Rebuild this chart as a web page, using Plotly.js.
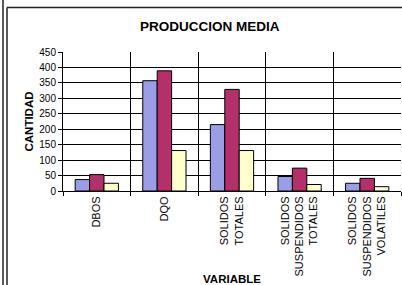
<!DOCTYPE html>
<html>
<head>
<meta charset="utf-8">
<script src="https://cdn.plot.ly/plotly-3.0.1.min.js"></script>
<style>html,body{margin:0;padding:0;background:#fff;}#chart{width:402px;height:285px;}</style>
</head>
<body>
<div id="chart"></div>
<script>
var categories = ["DBOS", "DQO", "SOLIDOS<br>TOTALES", "SOLIDOS<br>SUSPENDIDOS<br>TOTALES", "SOLIDOS<br>SUSPENDIDOS<br>VOLATILES"];
var serie1 = [37, 357, 215, 47, 25];
var serie2 = [53, 389, 329, 74, 41];
var serie3 = [25, 131, 131, 21, 14];
var yTicks = [0, 50, 100, 150, 200, 250, 300, 350, 400, 450];

var font = "Liberation Sans, Arial, sans-serif";
function bar(vals, color, name) {
  return {type: "bar", x: categories, y: vals, name: name,
    marker: {color: color, line: {color: "#000", width: 1}}, hoverinfo: "y"};
}
var data = [
  bar(serie1, "#9A9EE6", "Serie 1"),
  bar(serie2, "#B3306B", "Serie 2"),
  bar(serie3, "#FFFFCC", "Serie 3")
];
var fl = {color: "#222", width: 1.5};
var layout = {
  width: 402, height: 285,
  margin: {l: 63, r: 1, t: 52, b: 94},
  paper_bgcolor: "#fff", plot_bgcolor: "#fff",
  showlegend: false,
  barmode: "group", bargap: 0.36, bargroupgap: 0,
  font: {family: font, size: 10, color: "#000"},
  title: {text: "<b>PRODUCCION MEDIA</b>", font: {family: font, size: 13.5, color: "#000"},
    x: 0.522, xref: "container", xanchor: "center", y: 0.909, yref: "container", yanchor: "middle"},
  xaxis: {type: "category", tickson: "boundaries", showgrid: true, gridcolor: "#000", gridwidth: 1,
    ticks: "outside", ticklen: 4, tickcolor: "#000", tickangle: -90,
    showline: true, linecolor: "#000", linewidth: 1,
    tickfont: {family: font, size: 11, color: "#000"},
    title: {text: "<b>VARIABLE</b>", font: {family: font, size: 11.5, color: "#000"}, standoff: 4}},
  yaxis: {range: [0, 450], tickvals: yTicks, ticktext: yTicks.map(String),
    showgrid: true, gridcolor: "#000", gridwidth: 1, zeroline: false,
    ticks: "outside", ticklen: 4, tickcolor: "#000",
    showline: true, linecolor: "#000", linewidth: 1,
    tickfont: {family: font, size: 10, color: "#000"},
    title: {text: "<b>CANTIDAD</b>", font: {family: font, size: 11.5, color: "#000"}, standoff: 3}},
  shapes: [
    {type: "line", xref: "paper", yref: "paper", x0: -0.1775, x1: -0.1775, y0: -0.7, y1: 1.4, line: fl},
    {type: "line", xref: "paper", yref: "paper", x0: -0.1657, x1: -0.1657, y0: -0.7, y1: 1.321, line: fl},
    {type: "line", xref: "paper", yref: "paper", x0: -0.1657, x1: 1.1, y0: 1.321, y1: 1.321, line: fl}
  ]
};
Plotly.newPlot("chart", data, layout, {displayModeBar: false, staticPlot: true});
</script>
</body>
</html>
